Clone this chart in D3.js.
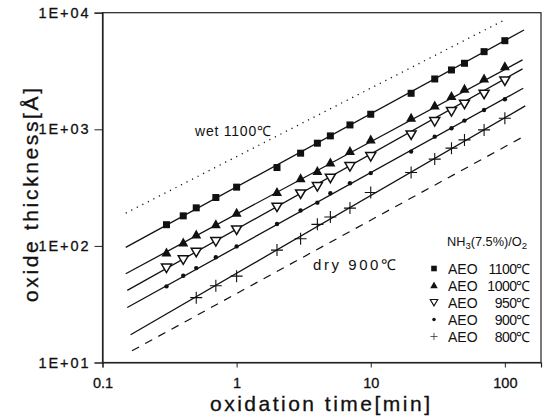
<!DOCTYPE html>
<html>
<head>
<meta charset="utf-8">
<script src="https://cdn.jsdelivr.net/npm/d3@7"></script>
<style>
  html, body { margin: 0; padding: 0; background: #fff; }
  svg { display: block; }
  text { font-family: "Liberation Sans", Arial, Helvetica, sans-serif; fill: #111; }
</style>
</head>
<body>
<div id="chart"></div>
<script>
// Oxide thickness vs oxidation time, AEO in NH3(7.5%)/O2

const times = [0.3, 0.4, 0.5, 0.7, 1, 2, 3, 4, 5, 7, 10, 20, 30, 40, 50, 70, 100];
const aeo1100 = [152, 181, 212, 260, 319, 470, 624, 760, 878, 1090, 1346, 2036, 2702, 3228, 3683, 4634, 5754];
const aeo1000 = [87, 106, 124, 152, 191, 287, 376, 434, 513, 644, 811, 1245, 1588, 1907, 2206, 2702, 3445];
const aeo950 = [64.5, 76, 88, 109, 137, 215, 279, 323, 381, 479, 583, 895, 1164, 1418, 1641, 1999, 2600];
const aeo900 = [45, 55.5, 64.5, 80, 99, 154, 201, 235, 283, 345, 421, 644, 865, 1021, 1188, 1466, 1810];
const times800 = [0.5, 0.7, 1, 2, 3, 4, 5, 7, 10, 20, 30, 40, 50, 70, 100];
const aeo800 = [36, 45.5, 55, 92, 115, 153, 177, 211, 287, 426, 555, 689, 811, 988, 1245];

// fitted lines: [start, end] as [time, thickness]
const fit1100 = [[0.149, 97], [139, 7100]];
const fit1000 = [[0.149, 57.7], [135.5, 3935]];
const fit950 = [[0.153, 41.5], [135.5, 3296]];
const fit900 = [[0.153, 29.6], [137, 2249]];
const fit800 = [[0.162, 17.3], [142, 1588]];
const dry900 = [[0.166, 12.6], [145, 895]];
const wet1100 = [[0.149, 191], [97, 8540]];

const xTicks = [0.1, 1, 10, 100];
const yTicks = [10, 100, 1000, 10000];
const yTickLabels = ['1E+01', '1E+02', '1E+03', '1E+04'];
const legendTemps = ['1100℃', '1000℃', '950℃', '900℃', '800℃'];

const width = 547;
const height = 416;

const svg = d3.select('#chart')
  .append('svg')
  .attr('width', width)
  .attr('height', height);

const x = d3.scaleLog().domain([0.1, 186]).range([102.5, 541]);
const y = d3.scaleLog().domain([10, 10000]).range([362.5, 12.7]);

// Frame
svg.append('rect')
  .attr('x', x.range()[0])
  .attr('y', y.range()[1])
  .attr('width', x.range()[1] - x.range()[0])
  .attr('height', y.range()[0] - y.range()[1])
  .attr('fill', 'none')
  .attr('stroke', '#222')
  .attr('stroke-width', 1.2);

// Axes
const xAxis = svg.append('g')
  .attr('transform', `translate(0,${y.range()[0]})`)
  .call(d3.axisBottom(x).tickValues(xTicks).tickFormat(d3.format('')).tickSize(5).tickPadding(10));
const yAxis = svg.append('g')
  .attr('transform', `translate(${x.range()[0]},0)`)
  .call(d3.axisLeft(y).tickValues(yTicks).tickFormat((d, i) => yTickLabels[i]).tickSize(8).tickPadding(6));

[xAxis, yAxis].forEach(g => {
  g.select('.domain').attr('stroke', '#222').attr('stroke-width', 1.2);
  g.selectAll('.tick line').attr('stroke', '#222');
  g.selectAll('.tick text')
    .attr('fill', '#111')
    .attr('stroke', '#111')
    .attr('stroke-width', 0.3)
    .attr('font-size', '14.5px')
    .style('font-family', '"Liberation Sans", Arial, sans-serif');
});
yAxis.selectAll('.tick text').attr('textLength', 50).attr('lengthAdjust', 'spacing');

// Axis titles
svg.append('text')
  .attr('x', 320)
  .attr('y', 411)
  .attr('text-anchor', 'middle')
  .attr('font-size', '21px')
  .attr('stroke', '#111')
  .attr('stroke-width', 0.3)
  .attr('textLength', 220)
  .attr('lengthAdjust', 'spacing')
  .text('oxidation time[min]');

svg.append('text')
  .attr('transform', 'translate(38,195) rotate(-90)')
  .attr('text-anchor', 'middle')
  .attr('font-size', '21px')
  .attr('stroke', '#111')
  .attr('stroke-width', 0.3)
  .attr('textLength', 214)
  .attr('lengthAdjust', 'spacing')
  .text('oxide thickness[Å]');

// Fit lines
const line = d3.line().x(d => x(d[0])).y(d => y(d[1]));

[fit1100, fit1000, fit950, fit900, fit800].forEach(f => {
  svg.append('path')
    .attr('d', line(f))
    .attr('fill', 'none')
    .attr('stroke', '#111')
    .attr('stroke-width', 1.3);
});

svg.append('path')
  .attr('d', line(dry900))
  .attr('fill', 'none')
  .attr('stroke', '#111')
  .attr('stroke-width', 1.2)
  .attr('stroke-dasharray', '8,7');

svg.append('path')
  .attr('d', line(wet1100))
  .attr('fill', 'none')
  .attr('stroke', '#111')
  .attr('stroke-width', 1.3)
  .attr('stroke-dasharray', '1.2,5');

// Marker shapes
const markers = {
  square: g => g.append('rect').attr('x', -3.5).attr('y', -3.5).attr('width', 7).attr('height', 7).attr('fill', '#111'),
  triUp: g => g.append('path').attr('d', 'M0,-5.5L5,3.5L-5,3.5Z').attr('fill', '#111'),
  triDown: g => g.append('path').attr('d', 'M0,4.5L-5,-4L5,-4Z').attr('fill', '#fff').attr('stroke', '#111').attr('stroke-width', 1.5),
  dot: g => g.append('circle').attr('r', 2.2).attr('fill', '#111'),
  plus: g => g.append('path').attr('d', 'M-6,0H6M0,-6V6').attr('stroke', '#111').attr('stroke-width', 1.1)
};

const series = [
  { t: times, v: aeo1100, shape: 'square' },
  { t: times, v: aeo1000, shape: 'triUp' },
  { t: times, v: aeo950, shape: 'triDown' },
  { t: times, v: aeo900, shape: 'dot' },
  { t: times800, v: aeo800, shape: 'plus' }
];

series.forEach(s => {
  const pts = s.t.map((t, i) => [t, s.v[i]]);
  svg.append('g')
    .selectAll('g')
    .data(pts)
    .enter()
    .append('g')
    .attr('transform', d => `translate(${x(d[0])},${y(d[1])})`)
    .each(function() { markers[s.shape](d3.select(this)); });
});

// Curve labels
svg.append('text')
  .attr('x', 195)
  .attr('y', 136)
  .attr('font-size', '14px')
  .attr('textLength', 76)
  .attr('lengthAdjust', 'spacing')
  .text('wet  1100℃');

svg.append('text')
  .attr('x', 313)
  .attr('y', 270)
  .attr('font-size', '15px')
  .attr('textLength', 83)
  .attr('lengthAdjust', 'spacing')
  .text('dry    900℃');

// Legend
const legendTitle = svg.append('text')
  .attr('x', 447)
  .attr('y', 246)
  .attr('font-size', '12px')
  .attr('textLength', 80)
  .attr('lengthAdjust', 'spacingAndGlyphs');
legendTitle.append('tspan').text('NH');
legendTitle.append('tspan').attr('font-size', '9px').attr('dy', 3).text('3');
legendTitle.append('tspan').attr('dy', -3).text('(7.5%)/O');
legendTitle.append('tspan').attr('font-size', '9px').attr('dy', 3).text('2');

const legendRows = svg.append('g')
  .selectAll('g')
  .data(series)
  .enter()
  .append('g')
  .attr('transform', (d, i) => `translate(434,${268.5 + i * 17})`);

legendRows.each(function(d) {
  const g = d3.select(this);
  const m = g.append('g');
  if (d.shape === 'square') m.attr('transform', 'scale(0.8)');
  if (d.shape === 'triUp') m.attr('transform', 'scale(0.75)');
  if (d.shape === 'triDown') m.attr('transform', 'scale(0.75)');
  if (d.shape === 'dot') m.attr('transform', 'scale(0.8)');
  if (d.shape === 'plus') m.attr('transform', 'scale(0.6)');
  markers[d.shape](m);
});

legendRows.append('text')
  .attr('x', 14)
  .attr('y', 5)
  .attr('font-size', '14px')
  .text('AEO');

legendRows.append('text')
  .attr('x', 96)
  .attr('y', 5)
  .attr('text-anchor', 'end')
  .attr('font-size', '14px')
  .attr('letter-spacing', '-0.5px')
  .text((d, i) => legendTemps[i]);
</script>
</body>
</html>
